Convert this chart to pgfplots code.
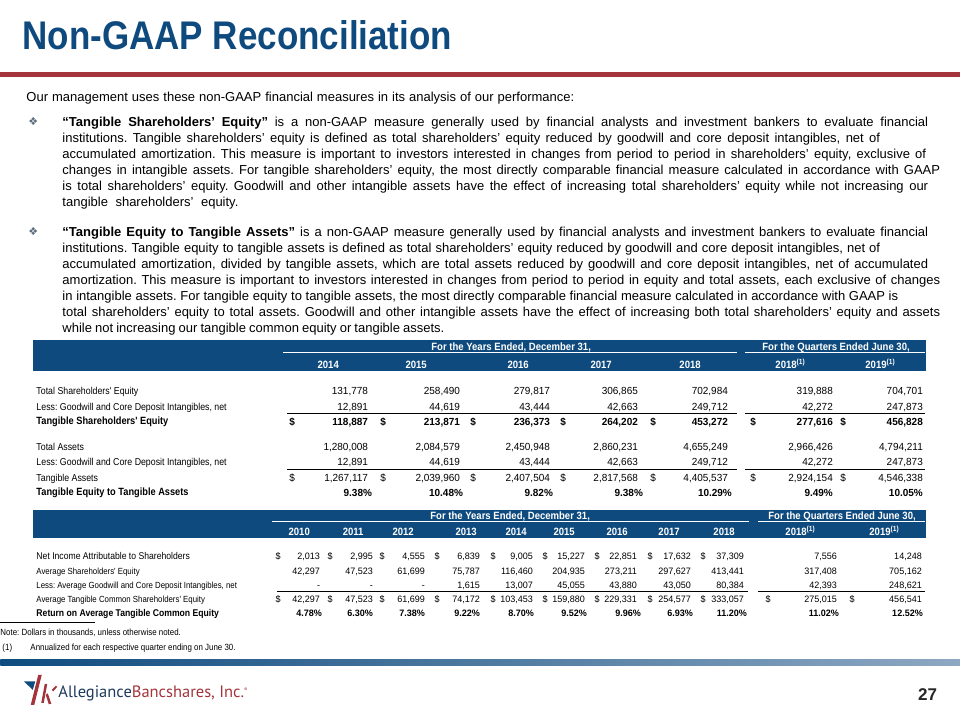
\documentclass[border=0pt]{standalone}
\usepackage{pgfplots}
\pgfplotsset{compat=1.18}
\usepackage{fontspec}
\setmainfont{Liberation Sans}
\newfontfamily\titlef{Liberation Sans}[FakeStretch=0.875]
\newfontfamily\tblf{Liberation Sans}[FakeStretch=0.88]
\newfontfamily\hdf{Liberation Sans}[FakeStretch=0.9]
\newfontfamily\numf{Liberation Sans}[FakeStretch=0.97]
\newfontfamily\symf{DejaVu Sans}
\newfontfamily\logof{PT Sans}
\definecolor{tblue}{HTML}{0E4A7E}
\definecolor{tred}{HTML}{A3343B}
\definecolor{bulc}{HTML}{5B6B7B}
\definecolor{lnavy}{HTML}{1E3A5C}
\definecolor{gA}{HTML}{0E4B7E}
\definecolor{gB}{HTML}{8DA8C2}
\tikzset{
  body/.style={inner sep=0pt, font=\fontsize{13}{15}\selectfont, text height=9.3pt, text depth=0pt},
  tb/.style={inner sep=0pt, font=\tblf\fontsize{10}{11}\selectfont, text height=7.1pt, text depth=0pt},
  tbb/.style={tb, font=\tblf\bfseries\fontsize{10.5}{11}\selectfont},
  nb/.style={inner sep=0pt, font=\numf\fontsize{10.3}{11}\selectfont, text height=7.3pt, text depth=0pt},
  nbb/.style={nb, font=\numf\bfseries\fontsize{10.3}{11}\selectfont},
  tc/.style={inner sep=0pt, font=\tblf\fontsize{8.9}{11}\selectfont, text height=6.6pt, text depth=0pt},
  tcb/.style={tc, font=\tblf\bfseries\fontsize{9.8}{11}\selectfont},
  nc/.style={inner sep=0pt, font=\numf\fontsize{9.3}{11}\selectfont, text height=6.7pt, text depth=0pt},
  ncb/.style={nc, font=\numf\bfseries\fontsize{9.3}{11}\selectfont},
  hd/.style={inner sep=0pt, text=white, font=\hdf\bfseries\fontsize{10.6}{11}\selectfont, text height=7.6pt, text depth=0pt},
  ft/.style={inner sep=0pt, font=\tblf\fontsize{9}{10}\selectfont, text height=6.4pt, text depth=0pt},
}
\frenchspacing
% body line: x, y, width, text
\newcommand{\BL}[4]{\node[body,anchor=west] at (axis cs:#1,#2) {\hbox to #3pt{\spaceskip=0.278em plus 6pt minus 1.8pt #4}};}
\newcommand{\BU}[1]{\node[inner sep=0pt,anchor=center,text=bulc,font=\symf\fontsize{11}{10}\selectfont] at (axis cs:33,#1) {❖};}
% table 1
\newcommand{\TA}[9]{% style, y, 7 values
 \node[#1,anchor=east] at (axis cs:368,#2) {#3};
 \node[#1,anchor=east] at (axis cs:460,#2) {#4};
 \node[#1,anchor=east] at (axis cs:550,#2) {#5};
 \node[#1,anchor=east] at (axis cs:638,#2) {#6};
 \node[#1,anchor=east] at (axis cs:728,#2) {#7};
 \node[#1,anchor=east] at (axis cs:833,#2) {#8};
 \node[#1,anchor=east] at (axis cs:923,#2) {#9};}
\newcommand{\TP}[9]{% style, y, 7 percentages
 \node[#1,anchor=east] at (axis cs:372,#2) {#3};
 \node[#1,anchor=east] at (axis cs:463,#2) {#4};
 \node[#1,anchor=east] at (axis cs:553,#2) {#5};
 \node[#1,anchor=east] at (axis cs:643,#2) {#6};
 \node[#1,anchor=east] at (axis cs:732,#2) {#7};
 \node[#1,anchor=east] at (axis cs:833,#2) {#8};
 \node[#1,anchor=east] at (axis cs:923,#2) {#9};}
\newcommand{\TD}[2]{% style, y : dollar signs
 \node[#1,anchor=center] at (axis cs:292,#2) {\$};
 \node[#1,anchor=center] at (axis cs:383,#2) {\$};
 \node[#1,anchor=center] at (axis cs:473,#2) {\$};
 \node[#1,anchor=center] at (axis cs:563,#2) {\$};
 \node[#1,anchor=center] at (axis cs:653,#2) {\$};
 \node[#1,anchor=center] at (axis cs:753,#2) {\$};
 \node[#1,anchor=center] at (axis cs:843,#2) {\$};}
% table 2 : first 7 columns, then 3, then last
\newcommand{\TBa}[9]{%
 \node[#1,anchor=east] at (axis cs:320,#2) {#3};
 \node[#1,anchor=east] at (axis cs:373,#2) {#4};
 \node[#1,anchor=east] at (axis cs:425,#2) {#5};
 \node[#1,anchor=east] at (axis cs:480,#2) {#6};
 \node[#1,anchor=east] at (axis cs:533,#2) {#7};
 \node[#1,anchor=east] at (axis cs:585,#2) {#8};
 \node[#1,anchor=east] at (axis cs:637,#2) {#9};}
\newcommand{\TBb}[5]{%
 \node[#1,anchor=east] at (axis cs:691,#2) {#3};
 \node[#1,anchor=east] at (axis cs:744,#2) {#4};
 \node[#1,anchor=east] at (axis cs:837,#2) {#5};}
\newcommand{\TBc}[3]{\node[#1,anchor=east] at (axis cs:922,#2) {#3};}
\newcommand{\TBD}[1]{%
 \node[nc,anchor=center] at (axis cs:278,#1) {\$};
 \node[nc,anchor=center] at (axis cs:330,#1) {\$};
 \node[nc,anchor=center] at (axis cs:382,#1) {\$};
 \node[nc,anchor=center] at (axis cs:437,#1) {\$};
 \node[nc,anchor=center] at (axis cs:493,#1) {\$};
 \node[nc,anchor=center] at (axis cs:545,#1) {\$};
 \node[nc,anchor=center] at (axis cs:597,#1) {\$};
 \node[nc,anchor=center] at (axis cs:650,#1) {\$};
 \node[nc,anchor=center] at (axis cs:703,#1) {\$};}
\begin{document}
\begin{tikzpicture}
\begin{axis}[width=960pt,height=720pt,scale only axis,xmin=0,xmax=960,ymin=0,ymax=720,
  y dir=reverse,axis lines=none,ticks=none,clip=false]
\addplot[draw=none] coordinates {(0,0) (960,720)};
% title and red rule
\node[anchor=base west,inner sep=0pt,text=tblue,font=\titlef\bfseries\fontsize{40}{40}\selectfont] at (axis cs:22,50) {Non-GAAP Reconciliation};
\addplot[draw=none,fill=tred] coordinates {(0,72.5) (960,72.5) (960,77.5) (0,77.5)} -- cycle;
% body text
\BL{26}{97}{548}{Our management uses these non-GAAP financial measures in its analysis of our performance:}
\BU{122}
\BL{62}{122}{866}{\textbf{“Tangible Shareholders’ Equity”} is a non-GAAP measure generally used by financial analysts and investment bankers to evaluate financial}
\BL{62}{138}{818}{institutions. Tangible shareholders’ equity is defined as total shareholders’ equity reduced by goodwill and core deposit intangibles, net of}
\BL{62}{154}{864}{accumulated amortization. This measure is important to investors interested in changes from period to period in shareholders’ equity, exclusive of}
\BL{62}{170}{878}{changes in intangible assets. For tangible shareholders’ equity, the most directly comparable financial measure calculated in accordance with GAAP}
\BL{62}{186}{866}{is total shareholders’ equity. Goodwill and other intangible assets have the effect of increasing total shareholders’ equity while not increasing our}
\BL{62}{202}{176}{tangible shareholders’ equity.}
\BU{232}
\BL{62}{232}{866}{\textbf{“Tangible Equity to Tangible Assets”} is a non-GAAP measure generally used by financial analysts and investment bankers to evaluate financial}
\BL{62}{248}{818}{institutions. Tangible equity to tangible assets is defined as total shareholders’ equity reduced by goodwill and core deposit intangibles, net of}
\BL{62}{264}{866}{accumulated amortization, divided by tangible assets, which are total assets reduced by goodwill and core deposit intangibles, net of accumulated}
\BL{62}{280}{878}{amortization. This measure is important to investors interested in changes from period to period in equity and total assets, each exclusive of changes}
\BL{62}{296}{836}{in intangible assets. For tangible equity to tangible assets, the most directly comparable financial measure calculated in accordance with GAAP is}
\BL{62}{312}{878}{total shareholders’ equity to total assets. Goodwill and other intangible assets have the effect of increasing both total shareholders’ equity and assets}
\BL{62}{328}{382}{while not increasing our tangible common equity or tangible assets.}
% ---------- table 1 ----------
\addplot[draw=none,fill=tblue] coordinates {(33,340) (926,340) (926,371) (33,371)} -- cycle;
\addplot[white,line width=0.8pt] coordinates {(283,352.5) (737,352.5)};
\addplot[white,line width=0.8pt] coordinates {(745,352.5) (925,352.5)};
\node[hd,anchor=center] at (axis cs:511,346.5) {For the Years Ended, December 31,};
\node[hd,anchor=center] at (axis cs:836,346.5) {For the Quarters Ended June 30,};
\node[hd,anchor=center] at (axis cs:328,364.5) {2014};
\node[hd,anchor=center] at (axis cs:416,364.5) {2015};
\node[hd,anchor=center] at (axis cs:518,364.5) {2016};
\node[hd,anchor=center] at (axis cs:601,364.5) {2017};
\node[hd,anchor=center] at (axis cs:690,364.5) {2018};
\node[hd,anchor=center] at (axis cs:786,364.5) {2018\rlap{\textsuperscript{(1)}}};
\node[hd,anchor=center] at (axis cs:876,364.5) {2019\rlap{\textsuperscript{(1)}}};
\node[tb,anchor=west] at (axis cs:36,391) {Total Shareholders' Equity};
\node[tb,anchor=west] at (axis cs:36,407) {Less: Goodwill and Core Deposit Intangibles, net};
\node[tbb,anchor=west] at (axis cs:36,421.5) {Tangible Shareholders' Equity};
\node[tb,anchor=west] at (axis cs:36,447) {Total Assets};
\node[tb,anchor=west] at (axis cs:36,462) {Less: Goodwill and Core Deposit Intangibles, net};
\node[tb,anchor=west] at (axis cs:36,478) {Tangible Assets};
\node[tbb,anchor=west] at (axis cs:36,492.5) {Tangible Equity to Tangible Assets};
\TA{nb}{391}{131,778}{258,490}{279,817}{306,865}{702,984}{319,888}{704,701}
\TA{nb}{407}{12,891}{44,619}{43,444}{42,663}{249,712}{42,272}{247,873}
\TA{nbb}{421.5}{118,887}{213,871}{236,373}{264,202}{453,272}{277,616}{456,828}
\TD{nbb}{421.5}
\TA{nb}{447}{1,280,008}{2,084,579}{2,450,948}{2,860,231}{4,655,249}{2,966,426}{4,794,211}
\TA{nb}{462}{12,891}{44,619}{43,444}{42,663}{249,712}{42,272}{247,873}
\TA{nb}{478}{1,267,117}{2,039,960}{2,407,504}{2,817,568}{4,405,537}{2,924,154}{4,546,338}
\TD{nb}{478}
\TP{nbb}{492.5}{9.38\%}{10.48\%}{9.82\%}{9.38\%}{10.29\%}{9.49\%}{10.05\%}
\addplot[black,line width=0.8pt] coordinates {(287,414) (737,414)};
\addplot[black,line width=0.8pt] coordinates {(745,414) (925,414)};
\addplot[black,line width=0.8pt] coordinates {(287,469.5) (737,469.5)};
\addplot[black,line width=0.8pt] coordinates {(745,469.5) (925,469.5)};
% ---------- table 2 ----------
\addplot[draw=none,fill=tblue] coordinates {(33,510) (926,510) (926,538) (33,538)} -- cycle;
\addplot[white,line width=0.8pt] coordinates {(272,522) (749,522)};
\addplot[white,line width=0.8pt] coordinates {(758,522) (925,522)};
\node[hd,anchor=center] at (axis cs:510,516) {For the Years Ended, December 31,};
\node[hd,anchor=center] at (axis cs:842,516) {For the Quarters Ended June 30,};
\node[hd,anchor=center] at (axis cs:299,531.5) {2010};
\node[hd,anchor=center] at (axis cs:353,531.5) {2011};
\node[hd,anchor=center] at (axis cs:403,531.5) {2012};
\node[hd,anchor=center] at (axis cs:466,531.5) {2013};
\node[hd,anchor=center] at (axis cs:516,531.5) {2014};
\node[hd,anchor=center] at (axis cs:564,531.5) {2015};
\node[hd,anchor=center] at (axis cs:617,531.5) {2016};
\node[hd,anchor=center] at (axis cs:669,531.5) {2017};
\node[hd,anchor=center] at (axis cs:724,531.5) {2018};
\node[hd,anchor=center] at (axis cs:796,531.5) {2018\rlap{\textsuperscript{(1)}}};
\node[hd,anchor=center] at (axis cs:880,531.5) {2019\rlap{\textsuperscript{(1)}}};
\node[tc,anchor=west,font=\tblf\fontsize{9.8}{11}\selectfont] at (axis cs:36,556.5) {Net Income Attributable to Shareholders};
\node[tc,anchor=west] at (axis cs:36,571) {Average Shareholders' Equity};
\node[tc,anchor=west] at (axis cs:36,585) {Less: Average Goodwill and Core Deposit Intangibles, net};
\node[tc,anchor=west] at (axis cs:36,599) {Average Tangible Common Shareholders' Equity};
\node[tcb,anchor=west] at (axis cs:36,613) {Return on Average Tangible Common Equity};
\TBa{nc}{556.5}{2,013}{2,995}{4,555}{6,839}{9,005}{15,227}{22,851}
\TBb{nc}{556.5}{17,632}{37,309}{7,556}
\TBc{nc}{556.5}{14,248}
\TBD{556.5}
\TBa{nc}{571}{42,297}{47,523}{61,699}{75,787}{116,460}{204,935}{273,211}
\TBb{nc}{571}{297,627}{413,441}{317,408}
\TBc{nc}{571}{705,162}
\TBa{nc}{585}{-\hspace{3pt}}{-\hspace{3pt}}{-\hspace{3pt}}{1,615}{13,007}{45,055}{43,880}
\TBb{nc}{585}{43,050}{80,384}{42,393}
\TBc{nc}{585}{248,621}
\TBa{nc}{599}{42,297}{47,523}{61,699}{74,172}{103,453}{159,880}{229,331}
\TBb{nc}{599}{254,577}{333,057}{275,015}
\TBc{nc}{599}{456,541}
\TBD{599}
\node[nc,anchor=center] at (axis cs:768,599) {\$};
\node[nc,anchor=center] at (axis cs:852,599) {\$};
\node[ncb,anchor=east] at (axis cs:322,613) {4.78\%};
\node[ncb,anchor=east] at (axis cs:373,613) {6.30\%};
\node[ncb,anchor=east] at (axis cs:425,613) {7.38\%};
\node[ncb,anchor=east] at (axis cs:480,613) {9.22\%};
\node[ncb,anchor=east] at (axis cs:534,613) {8.70\%};
\node[ncb,anchor=east] at (axis cs:587,613) {9.52\%};
\node[ncb,anchor=east] at (axis cs:641,613) {9.96\%};
\node[ncb,anchor=east] at (axis cs:693,613) {6.93\%};
\node[ncb,anchor=east] at (axis cs:747,613) {11.20\%};
\node[ncb,anchor=east] at (axis cs:839,613) {11.02\%};
\node[ncb,anchor=east] at (axis cs:923,613) {12.52\%};
\addplot[black,line width=0.8pt] coordinates {(277,592) (748,592)};
\addplot[black,line width=0.8pt] coordinates {(758,592) (925,592)};
% ---------- footnotes ----------
\addplot[black,line width=0.6pt] coordinates {(0,622) (95,622)};
\node[ft,anchor=west] at (axis cs:0,632) {Note: Dollars in thousands, unless otherwise noted.};
\node[ft,anchor=west] at (axis cs:2,647) {(1)};
\node[ft,anchor=west] at (axis cs:30,647) {Annualized for each respective quarter ending on June 30.};
% ---------- bottom bar and logo ----------
\addplot[draw=none,left color=gA,right color=gB] coordinates {(0,660) (960,660) (960,665.5) (0,665.5)} -- cycle;
\addplot[draw=none,fill=tblue] coordinates {(23.5,681.5) (35,681.5) (32.5,690)} -- cycle;
\addplot[draw=none,fill=tred] coordinates {(38,675) (41.5,675) (34,705) (30.5,705)} -- cycle;
\addplot[draw=none,fill=tred] coordinates {(44.5,684) (47,684) (43.5,703) (41,703)} -- cycle;
\addplot[draw=none,fill=tred] coordinates {(45.5,695) (47.5,693.5) (51,704) (48.5,704.5)} -- cycle;
\addplot[draw=none,fill=tred] coordinates {(51.5,690) (55.5,686) (57,687) (53,691.5)} -- cycle;
\node[anchor=base west,inner sep=0pt,font=\logof\fontsize{16.5}{17}\selectfont] at (axis cs:58,698) {\textcolor{lnavy}{Allegiance}\textcolor{tred}{Bancshares, Inc.\textsuperscript{\tiny ®}}};
\node[anchor=center,inner sep=0pt,text=black!85,font=\bfseries\fontsize{17}{17}\selectfont,text height=12.2pt,text depth=0pt] at (axis cs:927.5,695) {27};
\end{axis}
\end{tikzpicture}
\end{document}
